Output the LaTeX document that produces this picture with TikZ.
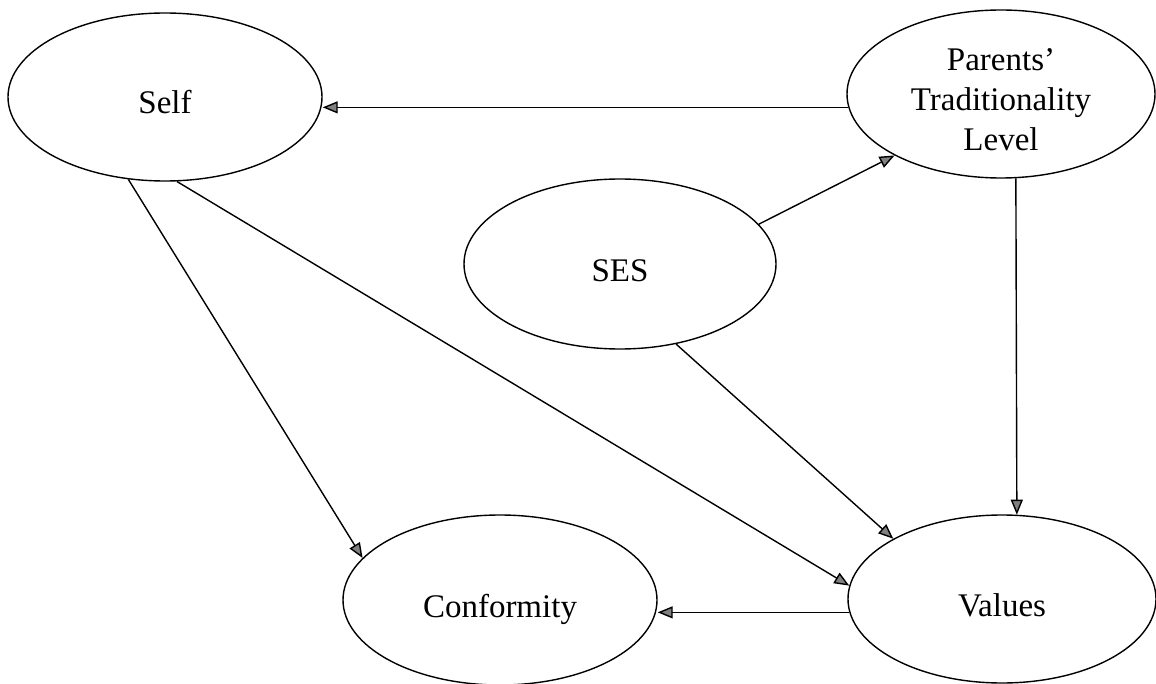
\documentclass[tikz,border=0pt]{standalone}
\usepackage{fontspec}
\setmainfont{Liberation Serif}
\usetikzlibrary{arrows.meta,shapes.geometric}

\begin{document}
\begin{tikzpicture}[x=0.5pt,y=-0.5pt,font=\fontsize{16.5}{20}\selectfont,
  >={Triangle[length=7.5pt,width=6pt,fill=gray]},
  latent/.style={ellipse,draw,line width=0.7pt,inner sep=0pt,align=center,
    text height=17pt,text depth=0pt}]
\useasboundingbox (0,0) rectangle (1156,684);
\node[latent,minimum width=157pt,minimum height=84pt] (self) at (165,97) {Self};
\node[latent,minimum width=154pt,minimum height=84pt,text height=57pt] (par) at (1001,94) {Parents'\\Traditionality\\Level};
\node[latent,minimum width=156pt,minimum height=85pt] (ses) at (620,264) {SES};
\node[latent,minimum width=157pt,minimum height=85pt] (conf) at (500,600) {Conformity};
\node[latent,minimum width=154pt,minimum height=84pt] (val) at (1002,599) {Values};
\draw[->,line width=0.7pt] (par.185) -- (self.east |- par.185);
\draw[->,line width=0.7pt] (ses.16.3) -- (par.210.3);
\draw[->,line width=0.7pt] (par.280.2) -- (val.80.5);
\draw[->,line width=0.7pt] (ses.305.5) -- (val.151.1);
\draw[->,line width=0.7pt] (self.278) -- (val.175.5);
\draw[->,line width=0.7pt] (self.246.5) -- (conf.163.4);
\draw[->,line width=0.7pt] (val.185) -- (conf.east |- val.185);
\end{tikzpicture}
\end{document}
